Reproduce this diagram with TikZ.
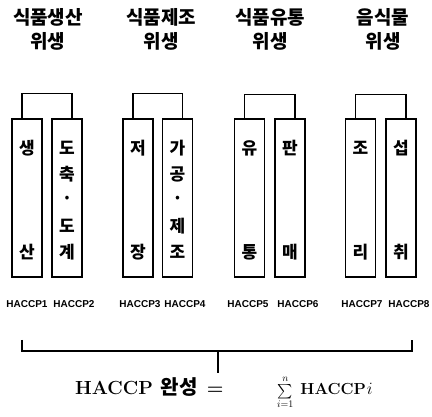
\documentclass[tikz,border=0pt]{standalone}
\usepackage{amsmath}
\usepackage{fontspec}
\newfontfamily\kr{Noto Sans CJK KR}
\setsansfont{Liberation Sans}
\begin{document}
\begin{tikzpicture}[x=1pt,y=-1pt,
  box/.style={draw,line width=1.2pt,minimum width=30pt,minimum height=158pt,inner sep=0pt},
  title/.style={font=\kr\bfseries\fontsize{19}{24}\selectfont,align=center,inner sep=0pt},
  ch/.style={font=\kr\bfseries\fontsize{17}{17}\selectfont,inner sep=0pt},
  lab/.style={font=\sffamily\bfseries\fontsize{10}{10}\selectfont,inner sep=0pt},
  wire/.style={line width=1.2pt}]
\useasboundingbox (0,0) rectangle (432,417);
% titles
\node[title] (t1) at (48,29) {식품생산\\위생};
\node[title] (t2) at (161,29) {식품제조\\위생};
\node[title] (t3) at (270,29) {식품유통\\위생};
\node[title] (t4) at (383,29) {음식물\\위생};
% boxes
\node[box] (b1) at (27,198) {};
\node[box] (b2) at (67,198) {};
\node[box] (b3) at (138,198) {};
\node[box] (b4) at (177.5,198) {};
\node[box] (b5) at (249.5,198) {};
\node[box] (b6) at (290,198) {};
\node[box] (b7) at (360.5,198) {};
\node[box] (b8) at (401,198) {};
% box texts
\node[ch] (c1a) at (27,148) {생};
\node[ch] (c1b) at (27,252) {산};
\node[ch] (c2a) at (67,148) {도};
\node[ch] (c2b) at (67,174) {축};
\node[ch] (c2c) at (67,200) {·};
\node[ch] (c2d) at (67,226) {도};
\node[ch] (c2e) at (67,252) {계};
\node[ch] (c3a) at (138,148) {저};
\node[ch] (c3b) at (138,252) {장};
\node[ch] (c4a) at (177.5,148) {가};
\node[ch] (c4b) at (177.5,174) {공};
\node[ch] (c4c) at (177.5,200) {·};
\node[ch] (c4d) at (177.5,226) {제};
\node[ch] (c4e) at (177.5,252) {조};
\node[ch] (c5a) at (249.5,148) {유};
\node[ch] (c5b) at (249.5,252) {통};
\node[ch] (c6a) at (290,148) {판};
\node[ch] (c6b) at (290,252) {매};
\node[ch] (c7a) at (360.5,148) {조};
\node[ch] (c7b) at (360.5,252) {리};
\node[ch] (c8a) at (401,148) {섭};
\node[ch] (c8b) at (401,252) {취};
% group brackets
\draw[wire] ([xshift=-5pt]b1.north) -- ++(0,-25) -| ([xshift=5pt]b2.north);
\draw[wire] ([xshift=-5pt]b3.north) -- ++(0,-25) -| ([xshift=5pt]b4.north);
\draw[wire] ([xshift=-5pt]b5.north) -- ++(0,-24) -| ([xshift=5pt]b6.north);
\draw[wire] ([xshift=-5pt]b7.north) -- ++(0,-24) -| ([xshift=5pt]b8.north);
% labels
\node[lab] (h1) at (27,304) {HACCP1};
\node[lab] (h2) at (74,304) {HACCP2};
\node[lab] (h3) at (140,304) {HACCP3};
\node[lab] (h4) at (185,304) {HACCP4};
\node[lab] (h5) at (248,304) {HACCP5};
\node[lab] (h6) at (298,304) {HACCP6};
\node[lab] (h7) at (362,304) {HACCP7};
\node[lab] (h8) at (409,304) {HACCP8};
% bottom bracket
\coordinate (bl) at (22,340);
\coordinate (br) at (412,340);
\coordinate (bm) at (218,351);
\draw[wire] (bl) |- (bm) -| (br);
% formula
\node[anchor=base west,inner sep=0pt,font=\fontsize{19}{19}\selectfont] (f1) at (75,395)
  {\bfseries HACCP\hspace{8pt}{\kr\fontsize{20}{20}\selectfont 완성}\hspace{9pt}=};
\node[anchor=base west,inner sep=0pt,font=\fontsize{16}{16}\selectfont] (f2) at (277,395)
  {{\fontsize{14}{14}\selectfont$\sum\limits_{i=1}^{n}$}\hspace{7pt}{\bfseries HACCP}\hspace{1pt}$i$};
\coordinate (fs) at (218,373);
\draw[wire] (bm) -- (fs);
\end{tikzpicture}
\end{document}
